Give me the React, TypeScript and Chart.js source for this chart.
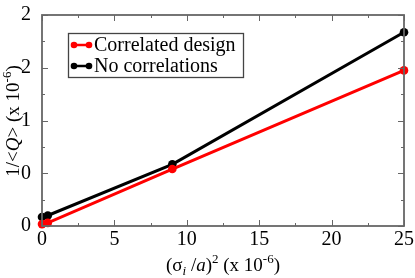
import React, { useEffect, useRef } from "react";
import { Chart, registerables } from "chart.js";

Chart.register(...registerables);

const seriesNames = ["Correlated design", "No correlations"];
const seriesColors = ["#ff0000", "#000000"];
const xCorrelated = [0, 0.4, 9, 25];
const yCorrelated = [0.018, 0.03, 0.54, 1.475];
const xNoCorr = [0, 0.4, 9, 25];
const yNoCorr = [0.086, 0.1, 0.585, 1.837];
const yTickLabels = ["0", "0", "1", "2", "2"];
const xTickLabels = ["0", "5", "10", "15", "20", "25"];

const SERIF = "'Liberation Serif', 'Times New Roman', serif";
const FRAME = "#666666";

type Seg = { t: string; italic?: boolean; small?: boolean; dy?: number };

function segFont(s: Seg) {
  const size = s.small ? 13 : 19;
  return `${s.italic ? "italic " : ""}${size}px ${SERIF}`;
}

function drawRich(ctx: CanvasRenderingContext2D, segs: Seg[], cx: number, cy: number, rot: number) {
  ctx.save();
  ctx.translate(cx, cy);
  ctx.rotate(rot);
  ctx.textBaseline = "alphabetic";
  ctx.textAlign = "left";
  let w = 0;
  for (const s of segs) {
    ctx.font = segFont(s);
    w += ctx.measureText(s.t).width;
  }
  let x = -w / 2;
  for (const s of segs) {
    ctx.font = segFont(s);
    ctx.fillStyle = "#000";
    ctx.fillText(s.t, x, 6 + (s.dy || 0));
    x += ctx.measureText(s.t).width;
  }
  ctx.restore();
}

const framePlugin = {
  id: "frameAndTitles",
  afterDraw(chart: any) {
    const { ctx, chartArea: a, scales } = chart;
    const xs = scales.x;
    const ys = scales.y;
    ctx.save();
    ctx.strokeStyle = FRAME;
    ctx.lineWidth = 1.8;
    ctx.strokeRect(a.left, a.top, a.right - a.left, a.bottom - a.top);
    ctx.lineWidth = 1;
    const xt = xs.ticks.map((t: any) => t.value);
    const yt = ys.ticks.map((t: any) => t.value);
    const xMinor: number[] = [];
    for (let i = 0; i < xt.length - 1; i++) xMinor.push((xt[i] + xt[i + 1]) / 2);
    const yMinor: number[] = [];
    for (let i = 0; i < yt.length - 1; i++) yMinor.push((yt[i] + yt[i + 1]) / 2);
    ctx.beginPath();
    const tick = (vals: number[], len: number) => {
      for (const v of vals) {
        const px = Math.round(xs.getPixelForValue(v)) + 0.5;
        ctx.moveTo(px, a.bottom);
        ctx.lineTo(px, a.bottom - len);
        ctx.moveTo(px, a.top);
        ctx.lineTo(px, a.top + len);
      }
    };
    const ytick = (vals: number[], len: number) => {
      for (const v of vals) {
        const py = Math.round(ys.getPixelForValue(v)) + 0.5;
        ctx.moveTo(a.left, py);
        ctx.lineTo(a.left + len, py);
        ctx.moveTo(a.right, py);
        ctx.lineTo(a.right - len, py);
      }
    };
    tick(xt, 6);
    tick(xMinor, 3);
    ytick(yt, 6);
    ytick(yMinor, 3);
    ctx.stroke();

    // legend
    const lx = 68, ly = 33, lw = 175, lh = 44;
    ctx.fillStyle = "#fff";
    ctx.fillRect(lx, ly, lw, lh);
    ctx.strokeStyle = "#444";
    ctx.lineWidth = 1.3;
    ctx.strokeRect(lx + 0.5, ly + 0.5, lw, lh);
    chart.data.datasets.forEach((ds: any, i: number) => {
      const yy = ly + 12 + i * 21;
      ctx.strokeStyle = ds.borderColor;
      ctx.fillStyle = ds.borderColor;
      ctx.lineWidth = 2.5;
      ctx.beginPath();
      ctx.moveTo(74, yy);
      ctx.lineTo(89, yy);
      ctx.stroke();
      for (const px of [74, 89]) {
        ctx.beginPath();
        ctx.arc(px, yy, 3.3, 0, Math.PI * 2);
        ctx.fill();
      }
      ctx.fillStyle = "#000";
      ctx.font = `20px ${SERIF}`;
      ctx.textBaseline = "middle";
      ctx.textAlign = "left";
      ctx.fillText(ds.label, 94, yy + 1);
    });
    ctx.restore();

    drawRich(ctx, [
      { t: "(σ" },
      { t: "i", italic: true, small: true, dy: 4 },
      { t: " /" },
      { t: "a", italic: true },
      { t: ")" },
      { t: "2", small: true, dy: -8 },
      { t: " (x 10" },
      { t: "-6", small: true, dy: -8 },
      { t: ")" },
    ], (a.left + a.right) / 2, 265, 0);

    drawRich(ctx, [
      { t: "1/<" },
      { t: "Q", italic: true },
      { t: "> (x 10" },
      { t: "-6", small: true, dy: -8 },
      { t: ")" },
    ], 13, 121, -Math.PI / 2);
  },
};

export default function App() {
  const ref = useRef<HTMLCanvasElement>(null);
  useEffect(() => {
    document.body.style.margin = "0";
    const chart = new Chart(ref.current!, {
      type: "line",
      data: {
        datasets: [
          {
            label: seriesNames[0],
            data: xCorrelated.map((x, i) => ({ x, y: yCorrelated[i] })),
            borderColor: seriesColors[0],
            backgroundColor: seriesColors[0],
            borderWidth: 3,
            pointRadius: 4.3,
            pointBorderWidth: 0,
            clip: false as any,
          },
          {
            label: seriesNames[1],
            data: xNoCorr.map((x, i) => ({ x, y: yNoCorr[i] })),
            borderColor: seriesColors[1],
            backgroundColor: seriesColors[1],
            borderWidth: 3,
            pointRadius: 4.3,
            pointBorderWidth: 0,
            clip: false as any,
          },
        ],
      },
      options: {
        responsive: false,
        animation: false,
        layout: { padding: { top: 9, right: 11, left: 0, bottom: 0 } },
        plugins: { legend: { display: false }, tooltip: { enabled: false } },
        scales: {
          x: {
            type: "linear",
            min: 0,
            max: 25,
            grid: { display: false },
            border: { display: false },
            ticks: {
              stepSize: 5,
              color: "#000",
              padding: -6,
              maxRotation: 0,
              font: { family: SERIF, size: 20 },
              callback: (_v: any, i: number) => xTickLabels[i],
            },
            afterFit: (s: any) => { s.height = 52; },
          },
          y: {
            type: "linear",
            min: 0,
            max: 2,
            grid: { display: false },
            border: { display: false },
            ticks: {
              stepSize: 0.5,
              color: "#000",
              padding: 3,
              font: { family: SERIF, size: 20 },
              callback: (_v: any, i: number) => yTickLabels[i],
            },
            afterFit: (s: any) => { s.width = 42; },
          },
        },
      },
      plugins: [framePlugin],
    });
    return () => chart.destroy();
  }, []);
  return (
    <div style={{ position: "absolute", left: 0, top: 0, width: 415, height: 278 }}>
      <canvas ref={ref} width={415} height={278} />
    </div>
  );
}
